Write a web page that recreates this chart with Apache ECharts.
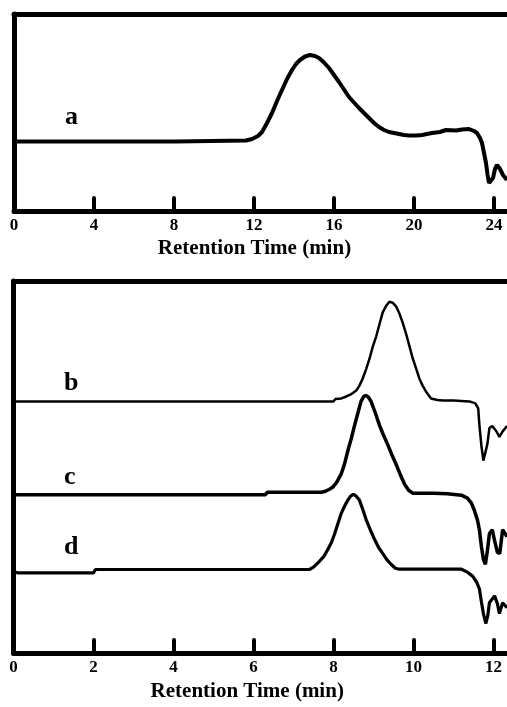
<!DOCTYPE html>
<html>
<head>
<meta charset="utf-8">
<script src="https://cdn.jsdelivr.net/npm/echarts@6/dist/echarts.min.js"></script>
<style>
    html, body { margin: 0; padding: 0; background: #fff; }
    #chart { width: 507px; height: 707px; }
</style>
</head>
<body>
<div id="chart"></div>
<script>
// retention time (min), detector response (arbitrary units)
var curveA = [[0,69.5],[8.1,69.5],[8.2,70.5],[11.6,70.5],[11.9,72],[12.2,75],[12.4,79],[12.65,88],[12.9,98],[13.15,110],
    [13.4,121],[13.65,132],[13.9,141],[14.1,147],[14.3,151],[14.55,154.5],[14.8,156],[15.05,155],[15.25,153],[15.5,148.5],
    [15.75,143],[16.0,136],[16.25,129],[16.5,121.5],[16.75,114],[17.0,108.5],[17.25,103],[17.5,98],[17.75,93],[18.0,88],
    [18.25,84],[18.5,81],[18.75,79],[19.0,78],[19.25,77],[19.5,76],[19.75,75.5],[20.1,75.5],[20.4,76],[20.9,78],[21.3,79],
    [21.6,81],[22.1,80.5],[22.4,81.5],[22.75,82],[23.0,80],[23.15,78],[23.3,73],[23.4,68],[23.5,58],[23.6,48],[23.68,36],
    [23.75,28],[23.85,27],[23.95,33],[24.05,42],[24.15,46],[24.3,42],[24.45,36],[24.65,31]];

var curveB = [[0,255],[8.0,255],[8.05,257.5],[8.2,258],[8.32,260],[8.45,262.5],[8.57,266],[8.65,271],[8.73,278],[8.82,288],
    [8.9,298],[8.98,310],[9.07,321],[9.15,333],[9.23,345],[9.32,352],[9.4,356],[9.48,355],[9.57,351],[9.65,344],[9.73,335],
    [9.82,323],[9.9,311],[9.98,299],[10.07,288],[10.15,278],[10.23,271],[10.33,264],[10.44,258],[10.6,256.5],[10.73,256],
    [11.0,256],[11.4,255],[11.55,253],[11.62,248],[11.65,231],[11.7,210],[11.75,195],[11.8,196],[11.85,212],[11.9,228],
    [11.97,230],[12.07,225],[12.15,219],[12.22,224],[12.34,230]];

var curveC = [[0,160.5],[6.3,160.5],[6.35,163],[7.7,163],[7.8,164],[7.9,166],[7.98,168],[8.08,173],[8.19,181],[8.28,192],
    [8.36,205],[8.45,218],[8.53,231],[8.61,243],[8.69,255],[8.76,260],[8.82,261],[8.88,259],[8.94,255],[9.05,243],[9.15,231],
    [9.25,221],[9.36,211],[9.46,201],[9.57,191],[9.67,181],[9.78,171],[9.88,165],[9.98,162],[10.5,162],[10.85,161.5],
    [11.2,160],[11.35,157],[11.45,152],[11.52,145],[11.6,135],[11.65,125],[11.7,108],[11.75,95],[11.8,90],[11.85,104],
    [11.9,121],[11.97,125],[12.03,114],[12.1,102],[12.16,101],[12.23,125],[12.34,118]];

var curveD = [[0,83],[0.1,81.3],[2.0,81.3],[2.05,84.7],[7.4,84.7],[7.5,87],[7.65,93],[7.76,98],[7.86,105],[7.95,112],
    [8.03,121],[8.11,131],[8.19,141],[8.28,149],[8.36,155],[8.43,159],[8.5,161],[8.57,159],[8.65,155],[8.73,146],[8.82,135],
    [8.92,125],[9.03,115],[9.13,107],[9.23,101],[9.33,95],[9.44,90],[9.55,86],[9.65,85],[11.2,85],[11.35,82],[11.48,78],
    [11.58,72],[11.65,65],[11.7,52],[11.75,40],[11.81,30],[11.86,38],[11.9,51],[12.03,58],[12.1,50],[12.15,40],[12.23,51],
    [12.34,46]];

var topTicks = [4, 8, 12, 16, 20, 24];
var topLabels = [0, 4, 8, 12, 16, 20, 24];
var bottomTicks = [2, 4, 6, 8, 10, 12];
var bottomLabels = [0, 2, 4, 6, 8, 10, 12];
var axisTitle = 'Retention Time (min)';

var FONT = '"Liberation Serif", "Times New Roman", serif';

function bottomAxis(grid, max, ticks, labels, pad) {
    return {
        type: 'value', gridIndex: grid, position: 'bottom', min: 0, max: max,
        name: axisTitle, nameLocation: 'middle', nameGap: 27,
        nameTextStyle: { fontFamily: FONT, fontWeight: 'bold', fontSize: 21, color: '#000', padding: [0, pad, 0, 0] },
        axisLine: { lineStyle: { color: '#000', width: 5 } },
        axisTick: { inside: true, length: 13, customValues: ticks, lineStyle: { color: '#000', width: 4, cap: 'round' } },
        axisLabel: { customValues: labels, margin: 6, fontFamily: FONT, fontWeight: 'bold', fontSize: 17, color: '#000' },
        splitLine: { show: false }
    };
}

function topBorder(grid, max) {
    return {
        type: 'value', gridIndex: grid, position: 'top', min: 0, max: max,
        axisLine: { lineStyle: { color: '#000', width: 5 } },
        axisTick: { show: false }, axisLabel: { show: false }, splitLine: { show: false }
    };
}

function leftAxis(grid, max) {
    return {
        type: 'value', gridIndex: grid, min: 0, max: max,
        axisLine: { show: true, lineStyle: { color: '#000', width: 5 } },
        axisTick: { show: false }, axisLabel: { show: false }, splitLine: { show: false }
    };
}

function trace(data, xi, yi, w) {
    return {
        type: 'line', data: data, xAxisIndex: xi, yAxisIndex: yi,
        showSymbol: false, symbol: 'none', silent: true,
        lineStyle: { color: '#000', width: w }
    };
}

function tag(text, x, y) {
    return {
        type: 'text', left: x, top: y,
        style: { text: text, fontFamily: FONT, fontWeight: 'bold', fontSize: 26, fill: '#000' }
    };
}

var chart = echarts.init(document.getElementById('chart'));

var option = {
    animation: false,
    backgroundColor: '#fff',
    grid: [
        { left: 14, right: 0, top: 14, height: 197 },
        { left: 13.5, right: 0, top: 281, height: 377 }
    ],
    xAxis: [
        bottomAxis(0, 24.65, topTicks, topLabels, 12),
        topBorder(0, 24.65),
        bottomAxis(1, 12.34, bottomTicks, bottomLabels, 26),
        topBorder(1, 12.34)
    ],
    yAxis: [leftAxis(0, 197), leftAxis(1, 377)],
    series: [
        trace(curveA, 0, 0, 4),
        trace(curveB, 2, 1, 2.5),
        trace(curveC, 2, 1, 3.5),
        trace(curveD, 2, 1, 3.2)
    ],
    graphic: [
        tag('a', 65, 104),
        tag('b', 64, 370),
        tag('c', 64, 464),
        tag('d', 64, 534)
    ]
};

chart.setOption(option);
</script>
</body>
</html>
